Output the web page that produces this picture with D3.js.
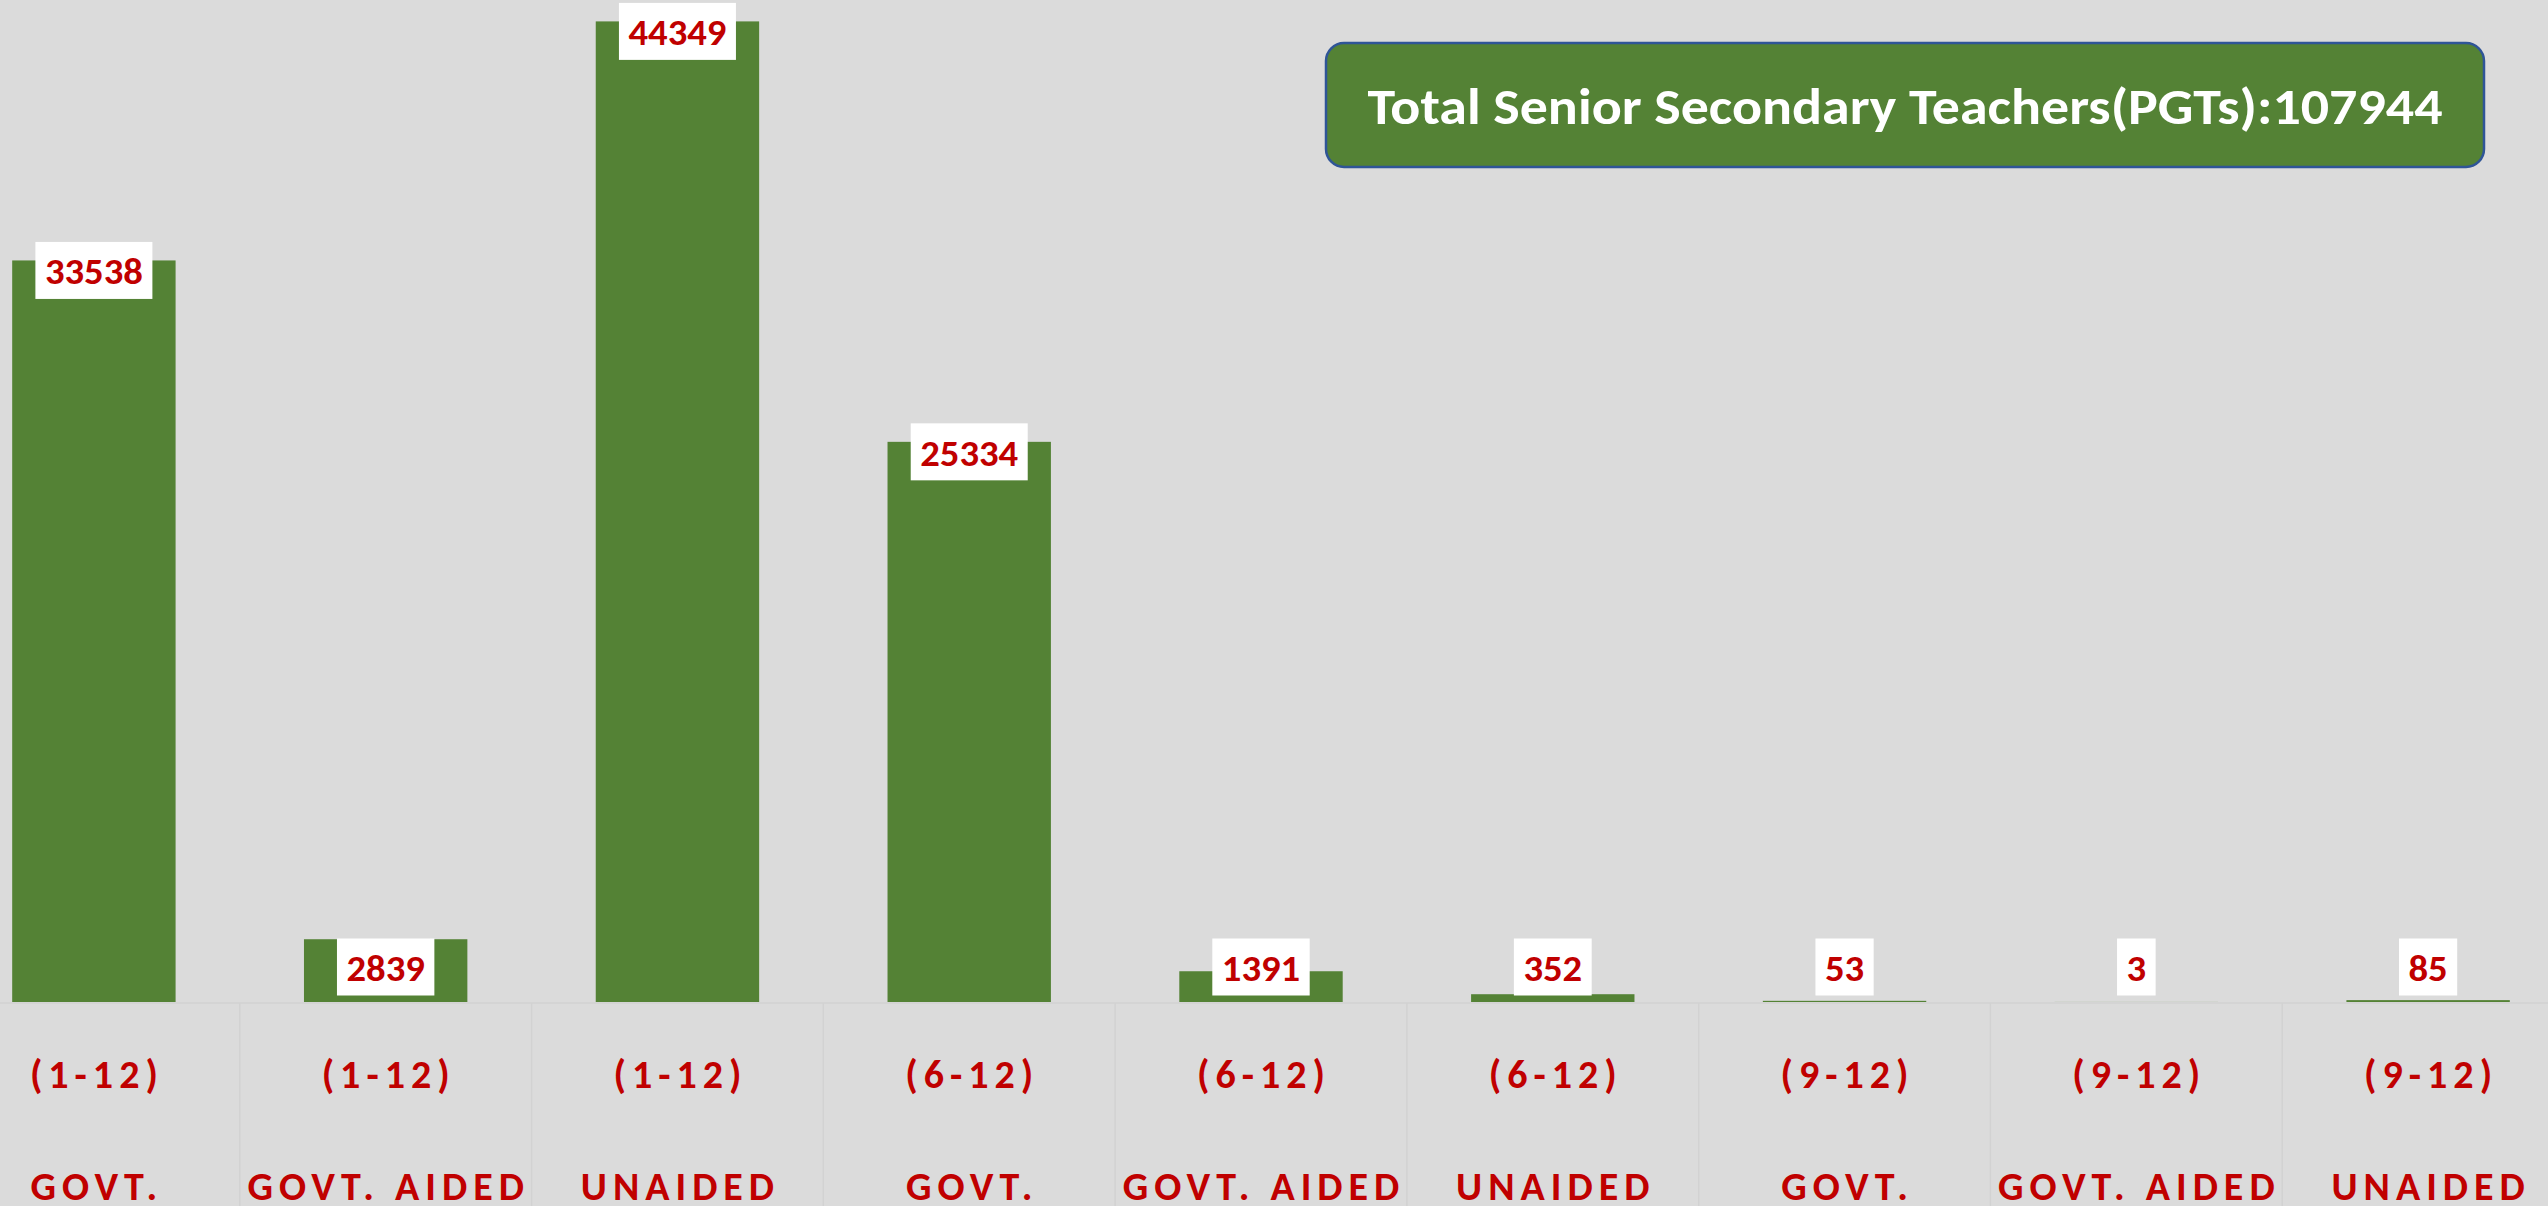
<!DOCTYPE html>
<html>
<head>
<meta charset="utf-8" />
<title>Senior Secondary Teachers</title>
<script src="https://d3js.org/d3.v7.min.js"></script>
<style>
  body, html {
    margin: 0;
    padding: 0;
    background: #dbdbdb;
    overflow: hidden;
  }
  svg text {
    font-family: Carlito, Calibri, Lato, sans-serif;
    font-weight: bold;
  }
</style>
</head>
<body>
<svg id="viz"></svg>
<script>

// data
var ranges = ["(1-12)", "(1-12)", "(1-12)", "(6-12)", "(6-12)", "(6-12)", "(9-12)", "(9-12)", "(9-12)"];
var managements = ["GOVT.", "GOVT. AIDED", "UNAIDED", "GOVT.", "GOVT. AIDED", "UNAIDED", "GOVT.", "GOVT. AIDED", "UNAIDED"];
var teachers = [33538, 2839, 44349, 25334, 1391, 352, 53, 3, 85];
var totalLabel = "Total Senior Secondary Teachers(PGTs):107944";

var width = 2548,
    height = 1206,
    baseline = 1002;

var green = "#548235",
    red = "#c00000";

var svg = d3.select("#viz")
  .attr("width", width)
  .attr("height", height);

svg.append("rect")
  .attr("width", width)
  .attr("height", height)
  .attr("fill", "#dbdbdb");

var idx = d3.range(teachers.length);

var xScale = d3.scaleBand()
  .domain(idx)
  .range([-52, 2574]);

var yScale = d3.scaleLinear()
  .domain([0, 45000])
  .range([baseline, 7]);

var barW = xScale.bandwidth() * 0.56;

// category separators under the axis
svg.append("line")
  .attr("x1", 0).attr("x2", width)
  .attr("y1", baseline + 1).attr("y2", baseline + 1)
  .attr("stroke", "#d2d2d2")
  .attr("stroke-width", 1.5);

svg.selectAll(".sep")
  .data(idx.slice(1))
  .enter().append("line")
  .attr("class", "sep")
  .attr("x1", function(i) { return xScale(i); })
  .attr("x2", function(i) { return xScale(i); })
  .attr("y1", baseline + 1)
  .attr("y2", height)
  .attr("stroke", "#d2d2d2")
  .attr("stroke-width", 1.5);

// bars
svg.selectAll(".bar")
  .data(idx)
  .enter().append("rect")
  .attr("class", "bar")
  .attr("x", function(i) { return xScale(i) + (xScale.bandwidth() - barW) / 2; })
  .attr("y", function(i) { return yScale(teachers[i]); })
  .attr("width", barW)
  .attr("height", function(i) { return baseline - yScale(teachers[i]); })
  .attr("fill", green);

// value labels in white boxes
var boxH = 57,
    digitW = 19.6;

var labels = svg.selectAll(".lbl")
  .data(idx)
  .enter().append("g")
  .attr("class", "lbl")
  .attr("transform", function(i) {
    var top = yScale(teachers[i]);
    var cy = (baseline - top) < 2 * boxH ? baseline - 35 : top + 10;
    return "translate(" + (xScale(i) + xScale.bandwidth() / 2) + "," + cy + ")";
  });

labels.append("rect")
  .attr("fill", "#ffffff")
  .attr("x", function(i) { return -(String(teachers[i]).length * digitW) / 2 - 9.5; })
  .attr("y", -boxH / 2)
  .attr("width", function(i) { return String(teachers[i]).length * digitW + 19; })
  .attr("height", boxH);

labels.append("text")
  .attr("text-anchor", "middle")
  .attr("y", 14)
  .attr("fill", red)
  .style("font-size", "37px")
  .attr("textLength", function(i) { return String(teachers[i]).length * digitW; })
  .attr("lengthAdjust", "spacingAndGlyphs")
  .text(function(i) { return teachers[i]; });

// category labels, two levels
svg.selectAll(".rng")
  .data(idx)
  .enter().append("text")
  .attr("class", "rng")
  .attr("x", function(i) { return xScale(i) + xScale.bandwidth() / 2 + 3; })
  .attr("y", 1088)
  .attr("text-anchor", "middle")
  .attr("fill", red)
  .style("font-size", "40px")
  .style("letter-spacing", "6px")
  .text(function(i) { return ranges[i]; });

svg.selectAll(".mgmt")
  .data(idx)
  .enter().append("text")
  .attr("class", "mgmt")
  .attr("x", function(i) { return xScale(i) + xScale.bandwidth() / 2 + 3; })
  .attr("y", 1200)
  .attr("text-anchor", "middle")
  .attr("fill", red)
  .style("font-size", "40px")
  .style("letter-spacing", "6px")
  .text(function(i) { return managements[i]; });

// total box
var tb = svg.append("g");
tb.append("rect")
  .attr("x", 1326)
  .attr("y", 43)
  .attr("width", 1158)
  .attr("height", 124)
  .attr("rx", 18)
  .attr("fill", green)
  .attr("stroke", "#2f5597")
  .attr("stroke-width", 2.5);

tb.append("text")
  .attr("x", 1905)
  .attr("y", 124)
  .attr("text-anchor", "middle")
  .attr("fill", "#ffffff")
  .style("font-size", "51px")
  .attr("textLength", 1075)
  .attr("lengthAdjust", "spacingAndGlyphs")
  .text(totalLabel);

</script>
</body>
</html>
